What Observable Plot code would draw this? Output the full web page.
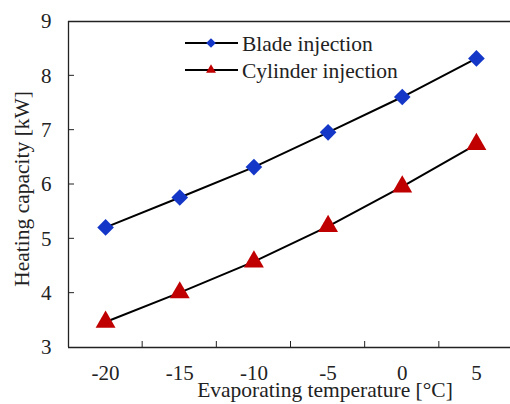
<!DOCTYPE html>
<html><head><meta charset="utf-8">
<script src="https://cdn.jsdelivr.net/npm/d3@7"></script>
<script src="https://cdn.jsdelivr.net/npm/@observablehq/plot@0.6"></script>
<style>body{margin:0;background:#fff;} svg{display:block;}</style>
</head><body><div id="chart"></div>
<script>
const temps = [-20, -15, -10, -5, 0, 5];
const blade = [5.21, 5.76, 6.32, 6.96, 7.61, 8.32];
const cylinder = [3.47, 4.01, 4.58, 5.23, 5.96, 6.74];
const yTicks = [3, 4, 5, 6, 7, 8, 9];
const catBounds = [-17.5, -12.5, -7.5, -2.5, 2.5];
const seriesNames = ["Blade injection", "Cylinder injection"];

const bladeData = temps.map((t, i) => ({t, v: blade[i]}));
const cylData = temps.map((t, i) => ({t, v: cylinder[i]}));
const font = "Liberation Serif, Times New Roman, serif";
const blue = "#1437C8", red = "#C00000";
const FS = 21.5, TFS = 21;

const chart = Plot.plot({
  width: 510, height: 404,
  marginLeft: 68, marginRight: -3, marginTop: 21, marginBottom: 57,
  style: {fontFamily: font, fontSize: FS + "px", color: "#222", background: "#fff"},
  x: {type: "linear", domain: [-22.5, 7.5], axis: null},
  y: {type: "linear", domain: [3, 9], axis: null},
  marks: [
    Plot.ruleY([9, 3], {stroke: "#222", strokeWidth: 1.3}),
    Plot.ruleX([-22.5], {stroke: "#222", strokeWidth: 1.3}),
    Plot.text(yTicks, {x: () => -22.5, y: d => d, text: d => String(d), textAnchor: "end", dx: -17, fontSize: TFS, fill: "#222"}),
    Plot.text(temps, {x: d => d, y: () => 3, text: d => String(d), dy: 26, fontSize: TFS, fill: "#222"}),
    Plot.line(bladeData, {x: "t", y: "v", stroke: "#000", strokeWidth: 2}),
    Plot.line(cylData, {x: "t", y: "v", stroke: "#000", strokeWidth: 2}),
    Plot.dot(bladeData, {x: "t", y: "v", symbol: "diamond2", r: 7.5, fill: blue, stroke: "none"}),
    Plot.dot(cylData, {x: "t", y: "v", symbol: "triangle2", r: 9.5, fill: red, stroke: "none"})
  ]
});

const svg = d3.select(chart);
const xs = chart.scale("x"), ys = chart.scale("y");
const x0 = xs.apply(-22.5), yb = ys.apply(3);
const g = svg.append("g").attr("stroke", "#222").attr("stroke-width", 1);
yTicks.slice(1, -1).forEach(v => {
  g.append("line").attr("x1", x0).attr("x2", x0 + 6).attr("y1", ys.apply(v)).attr("y2", ys.apply(v));
});
catBounds.forEach(v => {
  g.append("line").attr("x1", xs.apply(v)).attr("x2", xs.apply(v)).attr("y1", yb).attr("y2", yb - 6);
});
// axis titles
svg.append("text").attr("x", 325).attr("y", yb + 50).attr("text-anchor", "middle")
  .attr("font-family", font).attr("font-size", FS).attr("fill", "#222").text("Evaporating temperature [°C]");
svg.append("text").attr("transform", `translate(21,${ys.apply(5.91)}) rotate(-90)`).attr("dy", "0.35em").attr("text-anchor", "middle")
  .attr("font-family", font).attr("font-size", FS).attr("fill", "#222").text("Heating capacity [kW]");
// legend
const lg = svg.append("g");
const legendY = [43, 70];
seriesNames.forEach((name, i) => {
  const y = legendY[i];
  lg.append("line").attr("x1", 185).attr("x2", 238).attr("y1", y).attr("y2", y).attr("stroke", "#000").attr("stroke-width", 2);
  if (i === 0) lg.append("path").attr("d", d3.symbol(d3.symbolDiamond2, 60)()).attr("transform", `translate(211,${y})`).attr("fill", blue);
  else lg.append("path").attr("d", d3.symbol(d3.symbolTriangle2, 70)()).attr("transform", `translate(211,${y})`).attr("fill", red);
  lg.append("text").attr("x", 242).attr("y", y).attr("dy", "0.35em").attr("text-anchor", "start")
    .attr("font-family", font).attr("font-size", FS).attr("fill", "#222").text(name);
});
document.getElementById("chart").appendChild(chart);
</script></body></html>
